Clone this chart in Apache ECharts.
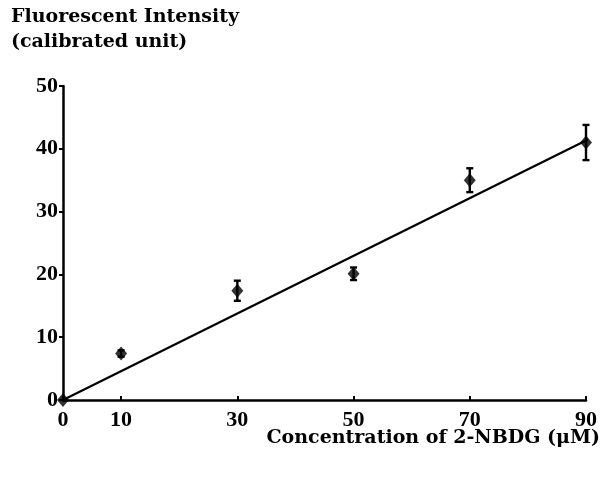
<!DOCTYPE html>
<html><head><meta charset="utf-8">
<script src="https://cdn.jsdelivr.net/npm/echarts@6/dist/echarts.min.js"></script>
<style>html,body{margin:0;padding:0;background:#fff}#c{width:607px;height:479px}</style>
</head><body><div id="c"></div>
<script>
const concentrations = [0, 10, 30, 50, 70, 90];
const intensity = [0, 7.4, 17.4, 20.1, 35.0, 41.0];
const errLow = [0, 6.9, 15.8, 19.1, 33.1, 38.2];
const errHigh = [0, 7.9, 19.0, 21.1, 36.9, 43.8];
const fitX = [0, 94.5];
const fitY = [0, 43.4];
const xTicks = [0, 10, 30, 50, 70, 90];
const yTicks = [0, 10, 20, 30, 40, 50];

const font = '"Liberation Serif", "Times New Roman", serif';
const titleFont = '"DejaVu Serif", serif';
const chart = echarts.init(document.getElementById('c'), null, {renderer: 'canvas'});
const pts = concentrations.map((x, i) => [x, intensity[i]]);
const errs = concentrations.map((x, i) => [x, errLow[i], errHigh[i]]).filter(d => d[2] > d[1]);
const fit = fitX.map((x, i) => [x, fitY[i]]);

chart.setOption({
  animation: false,
  backgroundColor: '#fff',
  grid: {left: 63, right: 21, top: 86, bottom: 79, containLabel: false},
  graphic: [
    {type: 'text', left: 11, top: 8, style: {text: 'Fluorescent Intensity', font: 'bold 19px ' + titleFont, fill: '#000'}},
    {type: 'text', left: 11, top: 33, style: {text: '(calibrated unit)', font: 'bold 19px ' + titleFont, fill: '#000'}},
    {type: 'text', right: 7, top: 429, style: {text: 'Concentration of 2-NBDG (\u03bcM)', font: 'bold 19px ' + titleFont, fill: '#000'}}
  ],
  xAxis: {
    type: 'value', min: 0, max: 90, interval: 10,
    splitLine: {show: false},
    axisLine: {show: true, onZero: false, lineStyle: {color: '#000', width: 2.5}},
    axisTick: {show: true, inside: true, length: 4, customValues: xTicks, lineStyle: {color: '#000', width: 2}},
    axisLabel: {customValues: xTicks, color: '#000', fontFamily: font, fontWeight: 'bold', fontSize: 22, margin: 9}
  },
  yAxis: {
    type: 'value', min: 0, max: 50, interval: 10,
    splitLine: {show: false},
    axisLine: {show: true, onZero: false, lineStyle: {color: '#000', width: 2.5}},
    axisTick: {show: true, length: 4, customValues: yTicks, lineStyle: {color: '#000', width: 2}},
    axisLabel: {customValues: yTicks, color: '#000', fontFamily: font, fontWeight: 'bold', fontSize: 22, margin: 5}
  },
  series: [
    {type: 'line', data: fit, symbol: 'none', clip: false, lineStyle: {color: '#000', width: 2.2}, z: 2},
    {type: 'custom', data: errs, clip: false, z: 3,
      renderItem: function (params, api) {
        const x = api.value(0);
        const lo = api.coord([x, api.value(1)]);
        const hi = api.coord([x, api.value(2)]);
        const w = 3.5;
        const st = {stroke: '#000', lineWidth: 2.4};
        return {type: 'group', children: [
          {type: 'line', shape: {x1: lo[0], y1: lo[1], x2: hi[0], y2: hi[1]}, style: st},
          {type: 'line', shape: {x1: lo[0] - w, y1: lo[1], x2: lo[0] + w, y2: lo[1]}, style: st},
          {type: 'line', shape: {x1: hi[0] - w, y1: hi[1], x2: hi[0] + w, y2: hi[1]}, style: st}
        ]};
      }
    },
    {type: 'scatter', data: pts, symbol: 'diamond', symbolSize: [12, 14], clip: false, z: 4,
      itemStyle: {color: '#000'}}
  ]
});
</script>
</body></html>
